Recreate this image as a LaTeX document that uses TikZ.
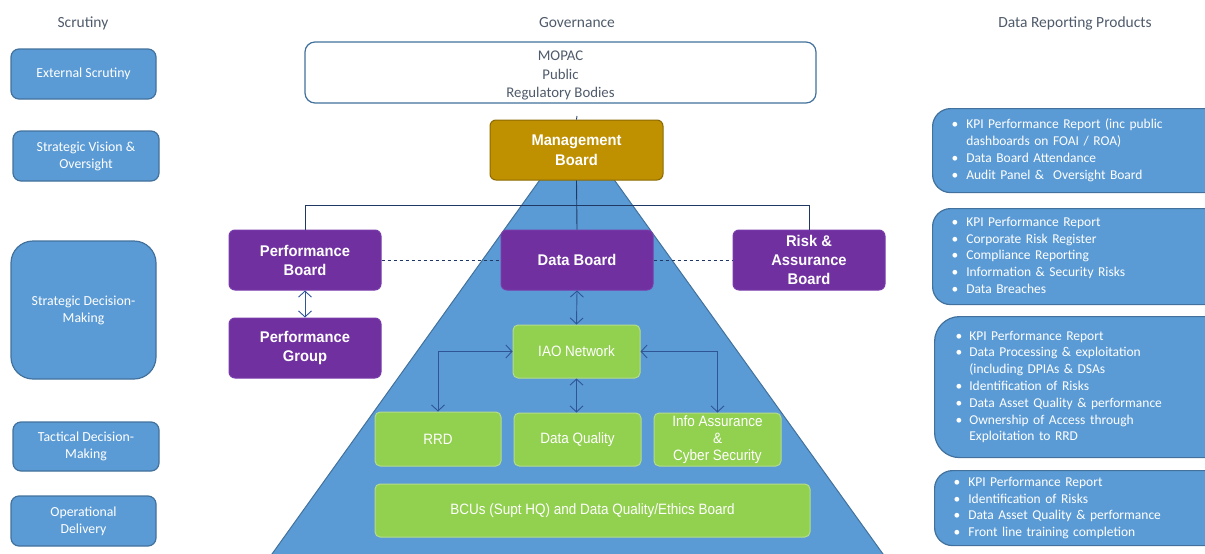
\documentclass[tikz,border=0pt]{standalone}
\usepackage{fontspec}
\setmainfont{Carlito}
\newfontfamily\boldsans{Liberation Sans}[FakeStretch=0.95]
\newfontfamily\narrowsans{Liberation Sans}[FakeStretch=0.9]
\usetikzlibrary{arrows.meta}
\definecolor{blueFill}{HTML}{5B9BD5}
\definecolor{blueEdge}{HTML}{41719C}
\definecolor{headGray}{HTML}{4F5B6B}
\definecolor{goldFill}{HTML}{BF9000}
\definecolor{goldEdge}{HTML}{8C6A00}
\definecolor{purpFill}{HTML}{7030A0}
\definecolor{purpEdge}{HTML}{7A3CAA}
\definecolor{greenFill}{HTML}{92D050}
\definecolor{greenEdge}{HTML}{B4DC8C}
\definecolor{navy}{HTML}{203864}
\definecolor{arrowBlue}{HTML}{2F5597}
\begin{document}
\begin{tikzpicture}[x=1pt,y=-1pt,
  header/.style={text=headGray, font=\fontsize{15.5}{18}\selectfont, inner sep=0pt},
  sidebox/.style={draw=blueEdge, fill=blueFill, rounded corners=8pt, line width=1.2pt,
    text=white, font=\fontsize{13.8}{17}\selectfont, align=center, inner sep=0pt},
  govbox/.style={draw=blueEdge, fill=white, rounded corners=10pt, line width=1.2pt,
    text=headGray, font=\fontsize{14.8}{18.5}\selectfont, align=center, inner sep=0pt},
  goldbox/.style={draw=goldEdge, fill=goldFill, rounded corners=6pt, line width=1pt,
    text=white, font=\boldsans\bfseries\fontsize{15.5}{19.5}\selectfont, align=center, inner sep=0pt},
  purpbox/.style={draw=purpEdge, fill=purpFill, rounded corners=6pt, line width=1pt,
    text=white, font=\boldsans\bfseries\fontsize{15.5}{19}\selectfont, align=center, inner sep=0pt},
  greenbox/.style={draw=greenEdge, fill=greenFill, rounded corners=5pt, line width=1pt,
    text=white, font=\narrowsans\fontsize{15}{17}\selectfont, align=center, inner sep=0pt},
  prodbox/.style={draw=blueEdge, fill=blueFill, rounded corners=18pt, line width=1.2pt,
    text=white, font=\fontsize{13.5}{16.8}\selectfont, align=left, anchor=north west,
    inner xsep=19pt, inner ysep=0pt, text width=262pt},
  link/.style={draw=navy, line width=0.9pt},
  dlink/.style={draw=arrowBlue, line width=0.9pt,
    {Straight Barb[length=6pt,width=13pt]}-{Straight Barb[length=6pt,width=13pt]}}
]
\path[use as bounding box] (0,0) rectangle (1205,554);
\clip (0,0) rectangle (1205,554);

% pyramid
\draw[fill=blueFill, draw=blueEdge, line width=1pt] (577,128) -- (887.3,560) -- (267.7,560) -- cycle;

% headers
\node[header] (hs) at (83,23) {Scrutiny};
\node[header] (hg) at (577,23) {Governance};
\node[header] (hd) at (1075,23) {Data Reporting Products};

% left column
\node[sidebox, minimum width=145pt, minimum height=50pt] (ext) at (83.5,74) {External Scrutiny};
\node[sidebox, minimum width=146pt, minimum height=50pt] (svo) at (86,156) {Strategic Vision \&\\Oversight};
\node[sidebox, rounded corners=22pt, minimum width=145pt, minimum height=138pt] (sdm) at (83.5,310) {Strategic Decision-\\Making};
\node[sidebox, minimum width=146pt, minimum height=49pt] (tdm) at (86,446.5) {Tactical Decision-\\Making};
\node[sidebox, minimum width=145pt, minimum height=50pt] (opd) at (83.5,521) {Operational\\Delivery};

% governance
\node[govbox, minimum width=511pt, minimum height=61pt] (mopac) at (560.5,72.5) {\raisebox{-3pt}[\height][\depth]{\begin{tabular}{@{}c@{}}MOPAC\\Public\\Regulatory Bodies\end{tabular}}};
\node[goldbox, minimum width=173pt, minimum height=60pt] (mgmt) at (576.5,150) {Management\\Board};
\node[purpbox, minimum width=152pt, minimum height=60pt] (pb) at (305,260) {Performance\\Board};
\node[purpbox, minimum width=152pt, minimum height=60pt] (db) at (577,260) {Data Board};
\node[purpbox, minimum width=152pt, minimum height=60pt] (rab) at (809,260) {Risk \&\\Assurance\\Board};
\node[purpbox, minimum width=152pt, minimum height=60pt] (pg) at (305,348) {Performance\\Group};

\node[greenbox, minimum width=127pt, minimum height=53pt] (iao) at (576.5,351.5) {IAO Network};
\node[greenbox, minimum width=126pt, minimum height=54pt] (rrd) at (438,439) {RRD};
\node[greenbox, minimum width=127pt, minimum height=53pt] (dq) at (577.5,439.5) {Data Quality};
\node[greenbox, minimum width=127pt, minimum height=53pt] (ia) at (717.5,439.5) {Info Assurance\\\&\\Cyber Security};
\node[greenbox, minimum width=435pt, minimum height=53pt] (bcu) at (592.5,510.5) {BCUs (Supt HQ) and Data Quality/Ethics Board};

% connectors
\coordinate (tick) at (577,116);
\draw[link] (tick) -- (mgmt.north);
\draw[link] (mgmt.south) -- (db.north);
\draw[link] (pb.north) -- (pb.north |- 0,205) -| (rab.north);
\draw[link, dashed] (pb.east) -- (db.west);
\draw[link, dashed] (db.east) -- (rab.west);
\draw[dlink] (pb.south) -- (pg.north);
\draw[dlink] (db.south) -- (iao.north);
\draw[dlink] (iao.west) -| (rrd.north);
\draw[dlink] (iao.south) -- (iao.south |- dq.north);
\draw[dlink] (iao.east) -| (ia.north);

% data reporting products
\node[prodbox, minimum height=84pt] (p1) at (932,108) {%
\begin{tabular}{@{}l@{\hspace{8pt}}l@{}}
• & KPI Performance Report (inc public\\
  & dashboards on FOAI / ROA)\\
• & Data Board Attendance\\
• & Audit Panel \&\ \ Oversight Board
\end{tabular}};
\node[prodbox, minimum height=96pt] (p2) at (932,208) {%
\begin{tabular}{@{}l@{\hspace{8pt}}l@{}}
• & KPI Performance Report\\
• & Corporate Risk Register\\
• & Compliance Reporting\\
• & Information \& Security Risks\\
• & Data Breaches
\end{tabular}};
\node[prodbox, rounded corners=25pt, inner xsep=21pt, minimum height=141pt] (p3) at (934,316) {%
\begin{tabular}{@{}l@{\hspace{7pt}}l@{}}
• & KPI Performance Report\\
• & Data Processing \& exploitation\\
  & (including DPIAs \& DSAs\\
• & Identification of Risks\\
• & Data Asset Quality \& performance\\
• & Ownership of Access through\\
  & Exploitation to RRD
\end{tabular}};
\node[prodbox, minimum height=75pt] (p4) at (934,470) {%
\begin{tabular}{@{}l@{\hspace{8pt}}l@{}}
• & KPI Performance Report\\
• & Identification of Risks\\
• & Data Asset Quality \& performance\\
• & Front line training completion
\end{tabular}};
\end{tikzpicture}
\end{document}
